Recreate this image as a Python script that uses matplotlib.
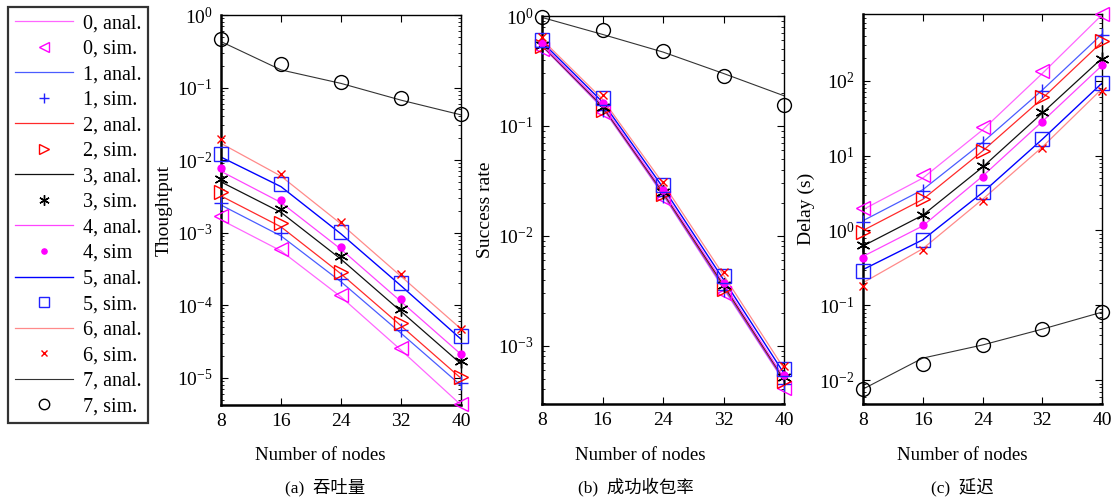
import numpy as np
import matplotlib
matplotlib.use("Agg")
import matplotlib.pyplot as plt
from matplotlib.lines import Line2D
from matplotlib.ticker import LogLocator, NullFormatter

plt.rcParams['font.family'] = ['Liberation Serif', 'Noto Sans CJK SC']
plt.rcParams['mathtext.fontset'] = 'stix'

nodes = [8, 16, 24, 32, 40]
xticks = [8, 16, 24, 32, 40]
labels_anal = ['0, anal.', '1, anal.', '2, anal.', '3, anal.', '4, anal.', '5, anal.', '6, anal.', '7, anal.']
labels_sim = ['0, sim.', '1, sim.', '2, sim.', '3, sim.', '4, sim', '5, sim.', '6, sim.', '7, sim.']

# (a) Throughput
thr_sim = [
    [1.7e-3, 6.0e-4, 1.4e-4, 2.6e-5, 4.4e-6],
    [2.6e-3, 9.8e-4, 2.3e-4, 4.5e-5, 8.5e-6],
    [3.6e-3, 1.34e-3, 2.9e-4, 5.7e-5, 1.03e-5],
    [5.4e-3, 2.1e-3, 4.7e-4, 8.9e-5, 1.7e-5],
    [7.7e-3, 2.8e-3, 6.4e-4, 1.2e-4, 2.1e-5],
    [1.2e-2, 4.7e-3, 1.03e-3, 2.04e-4, 3.7e-5],
    [1.93e-2, 6.4e-3, 1.42e-3, 2.7e-4, 4.7e-5],
    [0.46, 0.21, 0.118, 0.071, 0.043],
]
thr_anal = [
    [1.5e-3, 5.6e-4, 1.3e-4, 2.4e-5, 4.2e-6],
    [2.4e-3, 9.0e-4, 2.1e-4, 4.1e-5, 7.8e-6],
    [3.2e-3, 1.2e-3, 2.7e-4, 5.2e-5, 9.8e-6],
    [5.0e-3, 1.9e-3, 4.3e-4, 8.2e-5, 1.55e-5],
    [7.0e-3, 2.6e-3, 5.9e-4, 1.12e-4, 2.1e-5],
    [1.1e-2, 4.3e-3, 9.6e-4, 1.85e-4, 3.4e-5],
    [1.7e-2, 6.0e-3, 1.32e-3, 2.5e-4, 4.7e-5],
    [0.43, 0.175, 0.114, 0.067, 0.042],
]

# (b) Success rate
suc_sim = [
    [0.50, 0.135, 0.022, 0.0030, 4.1e-4],
    [0.52, 0.14, 0.023, 0.0032, 4.5e-4],
    [0.53, 0.14, 0.024, 0.0033, 4.8e-4],
    [0.55, 0.15, 0.025, 0.0036, 5.2e-4],
    [0.57, 0.16, 0.026, 0.0037, 5.4e-4],
    [0.60, 0.18, 0.029, 0.0043, 6.2e-4],
    [0.64, 0.19, 0.031, 0.0047, 6.6e-4],
    [0.98, 0.75, 0.48, 0.286, 0.154],
]
suc_anal = [
    [0.53, 0.145, 0.0235, 0.0033, 4.7e-4],
    [0.535, 0.148, 0.024, 0.0034, 4.8e-4],
    [0.54, 0.15, 0.0245, 0.0035, 4.9e-4],
    [0.545, 0.152, 0.025, 0.0036, 5.0e-4],
    [0.55, 0.155, 0.0255, 0.0037, 5.1e-4],
    [0.58, 0.165, 0.0275, 0.0040, 5.6e-4],
    [0.61, 0.175, 0.030, 0.0044, 6.2e-4],
    [0.97, 0.68, 0.47, 0.30, 0.188],
]

# (c) Delay
del_sim = [
    [1.99, 5.5, 24.0, 133.0, 785.0],
    [1.28, 3.4, 14.7, 72.0, 404.0],
    [0.94, 2.6, 11.7, 60.0, 336.0],
    [0.64, 1.62, 7.2, 37.7, 198.0],
    [0.43, 1.19, 5.2, 28.0, 160.0],
    [0.29, 0.75, 3.25, 16.6, 93.0],
    [0.179, 0.54, 2.49, 12.6, 74.0],
    [0.0076, 0.0166, 0.0295, 0.048, 0.081],
]
del_anal = [
    [1.9, 5.0, 22.0, 125.0, 760.0],
    [1.35, 3.5, 15.0, 75.0, 420.0],
    [1.0, 2.6, 11.5, 58.0, 330.0],
    [0.62, 1.6, 7.0, 37.0, 200.0],
    [0.45, 1.15, 5.3, 28.5, 160.0],
    [0.30, 0.75, 3.2, 16.5, 93.0],
    [0.20, 0.57, 2.6, 13.0, 78.0],
    [0.0076, 0.0197, 0.0295, 0.048, 0.081],
]

line_colors = ['#ff66ff', '#4a5cff', '#ff2a2a', '#111111', '#ff44ff', '#0000ff', '#ff8a8a', '#333333']
line_widths = [0.9, 0.9, 0.9, 0.9, 0.9, 1.0, 0.9, 0.8]
mk_colors = ['#ff00ff', '#2222ff', '#ff0000', '#000000', '#ff00ff', '#2222ff', '#ff0000', '#000000']
markers = ['<', '+', '>', (6, 2, 0), 'o', 's', 'x', 'o']
msizes = [10, 10, 10, 10, 5, 10, 6, 10]
mfill = [False, True, False, True, True, False, True, False]

fig = plt.figure(figsize=(11.11, 4.99), dpi=100)

ax_pos = [
    [221 / 1111, 1 - 405 / 499, 240 / 1111, 390 / 499],
    [542 / 1111, 1 - 404 / 499, 242 / 1111, 388 / 499],
    [863 / 1111, 1 - 404 / 499, 239 / 1111, 390 / 499],
]
ylims = [(4.2e-6, 1.0), (2.95e-4, 1.0), (4.8e-3, 780)]
datasets = [(thr_anal, thr_sim), (suc_anal, suc_sim), (del_anal, del_sim)]

axes = []
for p, (anal, sim), yl in zip(ax_pos, datasets, ylims):
    ax = fig.add_axes(p)
    for i in range(8):
        ax.plot(nodes, anal[i], color=line_colors[i], lw=line_widths[i], zorder=2)
        ax.plot(nodes, sim[i], linestyle='none', marker=markers[i], ms=msizes[i],
                markeredgecolor=mk_colors[i],
                markerfacecolor=(mk_colors[i] if mfill[i] else 'none'),
                markeredgewidth=1.0, zorder=3, clip_on=False)
    ax.set_yscale('log')
    ax.set_xlim(8, 40)
    ax.set_ylim(*yl)
    ax.set_xticks(xticks)
    ax.set_xticklabels([str(t) for t in xticks])
    ax.yaxis.set_major_locator(LogLocator(base=10, numticks=20))
    ax.yaxis.set_minor_locator(LogLocator(base=10, subs=np.arange(2, 10), numticks=20))
    ax.yaxis.set_minor_formatter(NullFormatter())
    ax.tick_params(which='both', direction='in', top=True, right=True, labelsize=14)
    ax.tick_params(which='major', length=5, width=0.8, pad=6)
    ax.tick_params(which='minor', length=2.5, width=0.6)
    for s in ax.spines.values():
        s.set_linewidth(1.0)
    ax.spines['left'].set_linewidth(1.8)
    ax.spines['bottom'].set_linewidth(1.8)
    axes.append(ax)

axes[0].set_ylabel('Thoughtput', fontsize=14, labelpad=3)
axes[1].set_ylabel('Success rate', fontsize=14, labelpad=3)
axes[2].set_ylabel('Delay (s)', fontsize=14, labelpad=3)

xl_x = [320, 640, 962]
cap_x = [325, 636, 962]
caps = ['(a)  吞吐量', '(b)  成功收包率', '(c)  延迟']
for xx, cx, c in zip(xl_x, cap_x, caps):
    fig.text(xx / 1111, 1 - 455 / 499, 'Number of nodes', ha='center', va='center', fontsize=13.5)
    fig.text(cx / 1111, 1 - 487 / 499, c, ha='center', va='center', fontsize=12.5)

handles = []
labels = []
for i in range(8):
    handles.append(Line2D([], [], color=line_colors[i], lw=line_widths[i]))
    labels.append(labels_anal[i])
    handles.append(Line2D([], [], linestyle='none', marker=markers[i], ms=msizes[i] * 0.75,
                          markeredgecolor=mk_colors[i],
                          markerfacecolor=(mk_colors[i] if mfill[i] else 'none'),
                          markeredgewidth=1.0))
    labels.append(labels_sim[i])

leg = fig.legend(handles, labels, loc='upper left', bbox_to_anchor=(8 / 1111, 1 - 7 / 499),
                 frameon=True, fancybox=False, fontsize=14.5, handlelength=2.9,
                 handletextpad=0.45, labelspacing=0.32, borderpad=0.35, borderaxespad=0)
leg.get_frame().set_edgecolor('black')
leg.get_frame().set_linewidth(1.6)

fig.savefig('out.png', dpi=100)
